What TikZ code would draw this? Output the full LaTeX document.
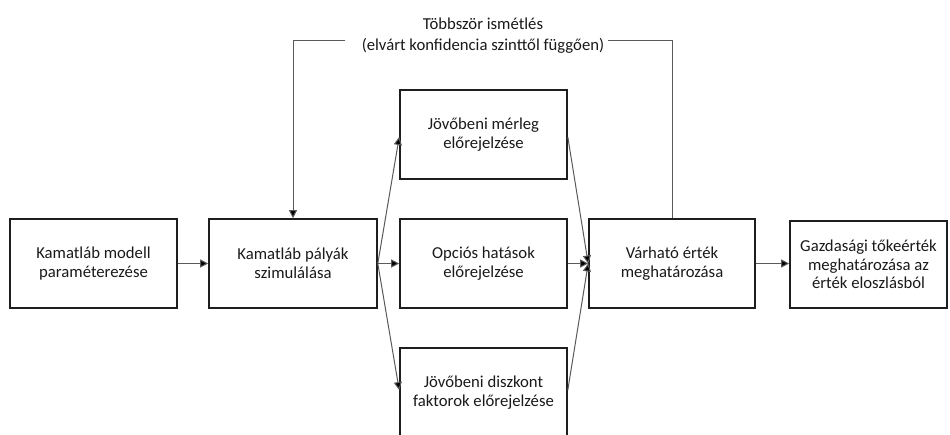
\documentclass[tikz,border=0pt]{standalone}
\usepackage{fontspec}
\setmainfont{Carlito}
\usetikzlibrary{arrows.meta}

\definecolor{boxline}{HTML}{1E1E1E}
\definecolor{connline}{HTML}{5A5A5A}
\definecolor{txt}{HTML}{1A1A1A}

\tikzset{
  stepbox/.style={draw=boxline, line width=1.6pt, fill=white, text=txt,
    align=center, inner sep=0pt, minimum height=89pt,
    font=\fontsize{16.7pt}{18.6pt}\selectfont},
  conn/.style={draw=connline, line width=1pt},
  flow/.style={conn, -{Triangle[length=8pt,width=8pt,fill=black]}},
  note/.style={text=txt, align=center, inner sep=0pt,
    font=\fontsize{16.7pt}{21pt}\selectfont}
}

\begin{document}
\begin{tikzpicture}[x=1pt,y=-1pt]
  \useasboundingbox (0,0) rectangle (950,434);
  \clip (0,0) rectangle (950,434);
  \fill[white] (0,0) rectangle (950,434);

  % process boxes
  \node[stepbox, minimum width=167pt] (param) at (93.5,263.5)
    {Kamatláb modell\\paraméterezése};
  \node[stepbox, minimum width=168pt] (sim) at (293,263.5)
    {Kamatláb pályák\\szimulálása};
  \node[stepbox, minimum width=167pt] (merleg) at (483.5,134.5)
    {Jövőbeni mérleg\\előrejelzése};
  \node[stepbox, minimum width=167pt] (opcio) at (483.5,263.5)
    {Opciós hatások\\előrejelzése};
  \node[stepbox, minimum width=167pt] (diszk) at (483.5,392.5)
    {Jövőbeni diszkont\\faktorok előrejelzése};
  \node[stepbox, minimum width=166pt] (varhato) at (672,263.5)
    {Várható érték\\meghatározása};
  \node[stepbox, minimum width=157pt, minimum height=87pt] (gazd) at (868.5,264.5)
    {Gazdasági tőkeérték\\meghatározása az\\érték eloszlásból};

  % repetition label and the loop around it
  \node[note] (ism) at (483,36) {Többször ismétlés\\(elvárt konfidencia szinttől függően)};
  \coordinate (loopR) at (608,40);
  \coordinate (loopL) at (345,40);
  \draw[conn] (varhato.north) |- (loopR);
  \draw[flow] (loopL) -| (sim.north);

  % main flow
  \draw[flow] (param.east) -- (sim.west);
  \draw[flow] (sim.east) -- (merleg.west |- 0,137);
  \draw[flow] (sim.east) -- (opcio.west);
  \draw[flow] (sim.east) -- (diszk.west |- 0,390);
  \draw[flow] (merleg.east |- 0,137) -- (varhato.west);
  \draw[flow] (opcio.east) -- (varhato.west);
  \draw[flow] (diszk.east |- 0,390) -- (varhato.west);
  \draw[flow] (varhato.east) -- (gazd.west |- varhato.east);
\end{tikzpicture}
\end{document}
